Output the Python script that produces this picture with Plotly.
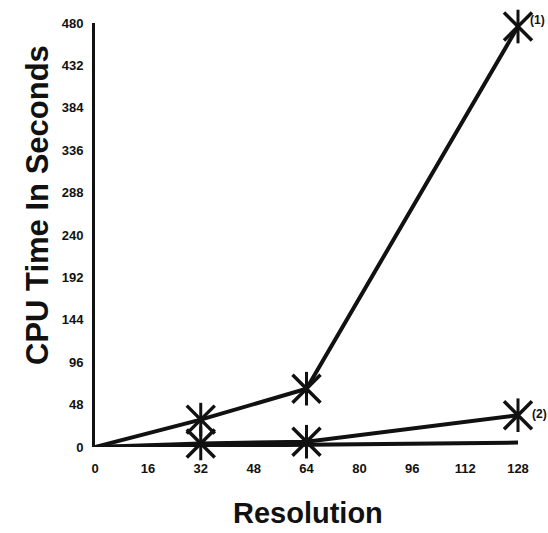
import plotly.graph_objects as go

resolution = [0, 32, 64, 128]
cpu_1 = [0, 31, 66, 476]
cpu_2 = [0, 4, 6, 36]
cpu_3 = [0, 1.5, 2.5, 5]
x_ticks = [0, 16, 32, 48, 64, 80, 96, 112, 128]
y_ticks = [0, 48, 96, 144, 192, 240, 288, 336, 384, 432, 480]

ink = "#111111"
L, R, T, B = 95, 30, 23, 86
W, H = 548, 533
pw, ph = W - L - R, H - T - B

fig = go.Figure()
fig.add_trace(go.Scatter(x=resolution, y=cpu_3, mode="lines",
                         line=dict(color=ink, width=4), cliponaxis=False))
for ys in (cpu_2, cpu_1):
    fig.add_trace(go.Scatter(x=resolution, y=ys, mode="lines",
                             line=dict(color=ink, width=4), cliponaxis=False))
    fig.add_trace(go.Scatter(x=resolution[1:], y=ys[1:], mode="markers",
                             marker=dict(symbol="x-thin-open", size=28, color=ink,
                                         line=dict(color=ink, width=3.5)),
                             cliponaxis=False))
    fig.add_trace(go.Scatter(x=resolution[1:], y=ys[1:], mode="markers",
                             marker=dict(symbol="line-ns-open", size=24, color=ink,
                                         line=dict(color=ink, width=3)),
                             cliponaxis=False))

fig.add_annotation(x=resolution[-1], y=cpu_1[-1], text="<b>(1)</b>", showarrow=False,
                   xanchor="left", yanchor="bottom", xshift=10, yshift=-2,
                   font=dict(size=12, color=ink, family="Arial"))
fig.add_annotation(x=resolution[-1], y=cpu_2[-1], text="<b>(2)</b>", showarrow=False,
                   xanchor="left", yanchor="bottom", xshift=12, yshift=-8,
                   font=dict(size=12, color=ink, family="Arial"))

# axis titles placed as annotations
fig.add_annotation(xref="paper", yref="paper",
                   x=(38 - L) / pw, y=(H - B - 205) / ph,
                   text="<b>CPU Time In Seconds</b>", textangle=-90, showarrow=False,
                   xanchor="center", yanchor="middle",
                   font=dict(size=31, color=ink, family="Arial"))
fig.add_annotation(xref="paper", yref="paper",
                   x=(308 - L) / pw, y=(H - B - 513) / ph,
                   text="<b>Resolution</b>", showarrow=False,
                   xanchor="center", yanchor="middle",
                   font=dict(size=29, color=ink, family="Arial"))

fig.update_layout(
    width=W, height=H,
    margin=dict(l=L, r=R, t=T, b=B),
    paper_bgcolor="white", plot_bgcolor="white",
    showlegend=False,
    font=dict(family="Arial", color=ink),
    xaxis=dict(range=[0, 128], tickvals=x_ticks,
               ticktext=[f"<b>{v}</b>" for v in x_ticks],
               showgrid=False, zeroline=False, showline=False, ticks="",
               tickfont=dict(size=13, family="Arial")),
    yaxis=dict(range=[0, 480], tickvals=y_ticks,
               ticktext=[f"<b>{v}</b>" for v in y_ticks],
               showgrid=False, zeroline=False, showline=True,
               linecolor=ink, linewidth=3, ticks="",
               tickfont=dict(size=13, family="Arial")),
)
fig.update_xaxes(ticklabelstandoff=12)
fig.update_yaxes(ticklabelstandoff=6)

fig.write_html("out.html")
